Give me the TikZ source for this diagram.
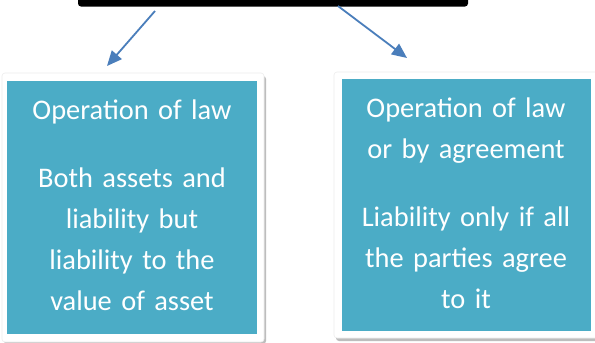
\documentclass[tikz,border=0pt]{standalone}
\usepackage{fontspec}
\setmainfont{Carlito}
\usetikzlibrary{arrows.meta}
\definecolor{teal}{HTML}{4BACC6}
\definecolor{arrowblue}{HTML}{4A7EBB}
\definecolor{shade}{HTML}{BDBDBD}
\begin{document}
\begin{tikzpicture}[x=1pt,y=-1pt,
  frame/.style={fill=white,draw=white!93!black,line width=0.6pt,rounded corners=3pt},
  frameshadow/.style={fill=shade,rounded corners=3pt},
  panel/.style={fill=teal},
  label/.style={text=white,font=\fontsize{28.4}{41}\selectfont,align=center,
    text width=240pt,inner sep=0pt,anchor=base},
  link/.style={draw=arrowblue,line width=1.8pt,-{Triangle[length=15pt,width=13pt]}}]
\useasboundingbox (0,0) rectangle (595,343);
\fill[white] (0,0) rectangle (595,343);

% heading bar across the top
\fill[black,rounded corners=3pt] (78,-10) rectangle (468,6.5);
\node[inner sep=0pt,minimum size=0pt] (bar) at (273,0) {};

% left card
\fill[frameshadow] (4,76) rectangle (266,344);
\draw[frame] (2,73) rectangle (264,342);
\fill[panel] (7,81) rectangle (257,334);
\node[label] (left) at (132,119.5)
  {Operation of law\\[27pt]Both assets and\\liability but\\liability to the\\value of asset};

% right card
\fill[frameshadow] (336,75) rectangle (605,341);
\draw[frame] (334,72) rectangle (605,338);
\fill[panel] (342,79) rectangle (591,331);
\node[label] (right) at (466,117.5)
  {Operation of law\\or by agreement\\[27pt]Liability only if all\\the parties agree\\to it};

% arrows from the heading to the two cards
\coordinate (ls) at (155,11);
\coordinate (le) at (107,66);
\coordinate (rs) at (338,6);
\coordinate (re) at (407,58);
\draw[link] (ls) -- (le);
\draw[link] (rs) -- (re);
\end{tikzpicture}
\end{document}
